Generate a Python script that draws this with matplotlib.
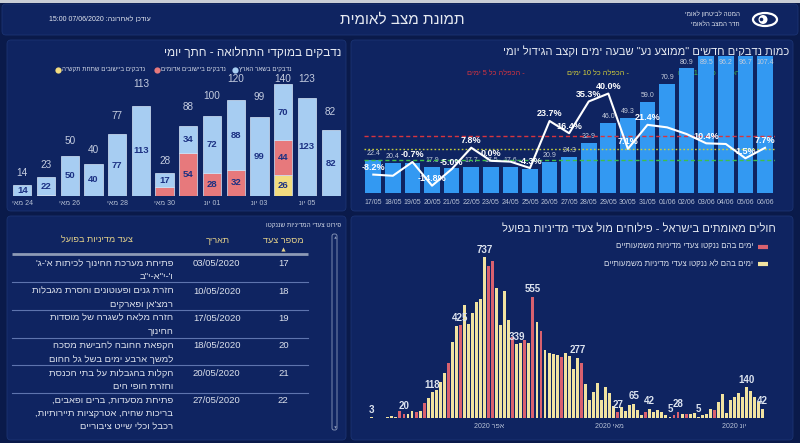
import re
import numpy as np
import matplotlib
matplotlib.use('Agg')
import matplotlib.pyplot as plt
from matplotlib.patches import FancyBboxPatch, Ellipse, Circle, Rectangle

plt.rcParams['font.family'] = ['Liberation Sans', 'DejaVu Sans']

# ---------------- DATA ----------------
# top-left: infections in hotspots, daily
tl_labels = ['24 מאי', '26 מאי', '28 מאי', '30 מאי', '01 יונ', '03 יונ', '05 יונ']
tl_blue = [14, 22, 50, 40, 77, 113, 17, 34, 72, 88, 99, 70, 123, 82]
tl_red = [0, 1, 0, 0, 0, 0, 11, 54, 28, 32, 0, 44, 0, 0]
tl_yellow = [0, 0, 0, 0, 0, 0, 0, 0, 0, 0, 0, 26, 0, 0]
tl_legend = ['נדבקים ביישובים שתחת תקש"ה', 'נדבקים ביישובים אדומים', 'נדבקים בשאר הארץ']

# top-right: 7-day moving average and daily growth
tr_dates = ['17/05', '18/05', '19/05', '20/05', '21/05', '22/05', '23/05', '24/05', '25/05', '26/05',
            '27/05', '28/05', '29/05', '30/05', '31/05', '01/06', '02/06', '03/06', '04/06', '05/06', '06/06']
tr_avg = [22.4, 20.4, 20.1, 17.9, 17.3, 17.7, 17.5, 17.6, 16.8, 20.9, 24.3, 32.9, 46.0, 49.3, 59.0,
          70.9, 80.9, 89.5, 96.2, 96.7, 107.4]
tr_avg_shown = [1, 1, 0, 1, 0, 1, 1, 1, 0, 1, 1, 1, 1, 1, 1, 1, 1, 1, 1, 1, 1]
tr_growth = [-8.2, -8.9, -0.7, -14.8, -5.0, 7.8, 0.0, -0.5, -4.3, 23.7, 16.4, 35.3, 40.0, 7.1, 21.4,
             19.9, 15.9, 10.4, 10.0, 1.5, 7.7]
tr_growth_shown = [1, 0, 1, 1, 1, 1, 1, 0, 1, 1, 1, 1, 1, 1, 1, 0, 0, 1, 0, 1, 1]
tr_ref_values = [14.87, 7.18, 0.7]
tr_ref_labels = ['- הכפלה כל 5 ימים', '- הכפלה כל 10 ימים', '- הכפלה כל 100 ימים']

# bottom-right: confirmed daily cases (2 Mar - 7 Jun), policy-step days flagged
br_cases = [3, 1, 2, 2, 3, 9, 3, 31, 20, 17, 32, 26, 34, 70, 92, 118, 130, 166, 207, 253,
            349, 421, 425, 519, 433, 480, 533, 546, 737, 696, 719, 598, 427, 584, 450, 373, 339, 343, 359, 343,
            555, 439, 401, 311, 297, 294, 291, 279, 300, 282, 224, 277, 252, 157, 84, 117, 160, 81, 142, 114,
            53, 27, 50, 34, 61, 65, 35, 15, 27, 42, 26, 38, 26, 15, 5, 15, 28, 20, 17, 18,
            23, 5, 12, 20, 43, 35, 74, 109, 25, 84, 97, 116, 97, 140, 123, 97, 74, 42]
br_policy = [0, 0, 0, 0, 0, 0, 0, 1, 1, 0, 0, 1, 0, 1, 0, 0, 0, 0, 0, 1,
             0, 0, 1, 0, 0, 0, 0, 0, 0, 1, 1, 0, 0, 0, 0, 1, 0, 0, 1, 0,
             1, 0, 1, 0, 0, 0, 0, 1, 0, 0, 0, 0, 1, 0, 0, 0, 0, 0, 0, 0,
             0, 1, 0, 0, 0, 0, 0, 0, 1, 0, 0, 0, 0, 0, 0, 1, 1, 0, 1, 0,
             0, 0, 0, 0, 0, 1, 0, 0, 0, 0, 0, 0, 0, 0, 0, 0, 0, 0]
br_labeled = [0, 8, 15, 22, 28, 36, 40, 51, 61, 65, 69, 74, 76, 81, 93, 97]
br_ticks = [29, 59, 90]
br_tick_labels = ['אפר 2020', 'מאי 2020', 'יונ 2020']
br_legend = ['ימים בהם ננקטו צעדי מדיניות משמעותיים', 'ימים בהם לא ננקטו צעדי מדיניות משמעותיים']

# table of policy steps
tb_steps = ['17', '18', '19', '20', '21', '22']
tb_dates = ['03/05/2020', '10/05/2020', '17/05/2020', '18/05/2020', '20/05/2020', '27/05/2020']
tb_desc = [["פתיחת מערכת החינוך לכיתות א'-ג'", 'ו\'-י"א-י"ב'],
           ['חזרת גנים ופעוטונים והסרת מגבלות', "רמצ'אן ופארקים"],
           ['חזרה מלאה לשגרה של מוסדות', 'החינוך'],
           ['הקפאת החובה לחבישת מסכה', 'למשך ארבע ימים בשל גל החום'],
           ['הקלות בהגבלות על בתי הכנסת', 'וחזרת חופי הים'],
           ['פתיחת מסעדות, ברים ופאבים,', 'בריכות שחיה, אטרקציות תיירותיות,', 'רכבל וכלי שייט ציבוריים']]
tb_headers = ['מספר צעד', 'תאריך', 'צעד מדיניות בפועל']


# ---------------- helpers ----------------
def rtl(s):
    r = s[::-1]
    r = re.sub(r'[0-9A-Za-z][0-9A-Za-z/:.%]*[0-9A-Za-z]|[0-9A-Za-z]', lambda m: m.group(0)[::-1], r)
    return r.translate(str.maketrans('()', ')('))


W, H = 800, 443
PX = 72 / 100.0  # points per pixel


def rect(x0, y0, x1, y1):
    return [x0 / W, 1 - y1 / H, (x1 - x0) / W, (y1 - y0) / H]


BG = '#0A1A4A'
PANEL = '#0F2461'
TXT = '#E6EAF2'
GRAY = '#B8C2D6'

fig = plt.figure(figsize=(8, 4.43), dpi=100)
fig.patch.set_facecolor(BG)

bg = fig.add_axes([0, 0, 1, 1], zorder=0)
bg.set_xlim(0, W)
bg.set_ylim(H, 0)
bg.axis('off')


def panel(x0, y0, x1, y1):
    bg.add_patch(FancyBboxPatch((x0, y0), x1 - x0, y1 - y0,
                                boxstyle='round,pad=0,rounding_size=4',
                                fc=PANEL, ec='#1B3372', lw=0.6))


bg.add_patch(Rectangle((0, 0), W, 3, fc='#C9CDD6', ec='none'))
panel(2, 4, 798, 35)
panel(7, 40, 346, 211)
panel(351, 40, 793, 211)
panel(7, 216, 346, 440)
panel(351, 216, 793, 440)

# header
bg.text(402, 19.5, rtl('תמונת מצב לאומית'), ha='center', va='center', fontsize=11, color=TXT)
bg.text(100, 19.5, rtl('עודכן לאחרונה: 07/06/2020 15:00'), ha='center', va='center', fontsize=5, color=TXT)
bg.text(740, 14, rtl('המטה לביטחון לאומי'), ha='right', va='center', fontsize=4.5, color=TXT)
bg.text(740, 24, rtl('חדר המצב הלאומי'), ha='right', va='center', fontsize=4.5, color=TXT)
bg.add_patch(Ellipse((765, 19.5), 24, 13, fc='none', ec='white', lw=1.6))
bg.add_patch(Circle((763, 19.5), 4.5, fc='white', ec='none'))
bg.add_patch(Circle((761.5, 19.5), 1.8, fc=PANEL, ec='none'))

# ---------------- top-left chart ----------------
bg.text(341, 52.5, rtl('נדבקים במוקדי התחלואה - חתך יומי'), ha='right', va='center', fontsize=8.5, color=TXT)

C_BLUE = '#A7CDF2'
C_RED = '#E7797C'
C_YEL = '#F3DC7F'
ax1 = fig.add_axes(rect(10.4, 60, 342.5, 195.7), zorder=2)
ax1.set_facecolor('none')
n1 = len(tl_blue)
x1 = np.arange(n1)
yel = np.array(tl_yellow)
red = np.array(tl_red)
blu = np.array(tl_blue)
tot = yel + red + blu
ax1.set_xlim(-0.5, n1 - 0.5)
ax1.set_ylim(0, 170.3)
bw = 0.77
ax1.bar(x1, yel, bw, color=C_YEL, ec='#D6E6F8', lw=0.5, zorder=2)
ax1.bar(x1, red, bw, bottom=yel, color=C_RED, ec='#D6E6F8', lw=0.5, zorder=2)
ax1.bar(x1, blu, bw, bottom=yel + red, color=C_BLUE, ec='#D6E6F8', lw=0.5, zorder=2)
for i in range(n1):
    base = 0
    for v in (yel[i], red[i], blu[i]):
        if v >= 12:
            ax1.text(i, base + v / 2, str(v), ha='center', va='center', fontsize=6.8,
                     color='#1C3183', fontweight='bold', zorder=3)
        base += v
    ppu = 0.797
    lab_px = min(0.9 * tot[i] + 10, 116.5)
    ax1.text(i, lab_px / ppu, str(tot[i]), ha='center', va='center', fontsize=7.2, color='#C5CDE0', zorder=3)
ax1.set_xticks(np.arange(0, n1, 2))
ax1.set_xticklabels([rtl(s) for s in tl_labels])
ax1.tick_params(axis='x', length=0, labelsize=5, labelcolor=GRAY, pad=3.2)
ax1.set_yticks([])
for s in ax1.spines.values():
    s.set_visible(False)

# legend (top-left)
for xd, col, txt in zip([58, 157, 235], [C_YEL, C_RED, C_BLUE], tl_legend):
    bg.plot([xd], [69.5], 'o', ms=4.5, color=col, mec='none')
    bg.text(xd + 4, 69.5, rtl(txt), ha='left', va='center', fontsize=4.5, color='#D5DBE8')

# ---------------- top-right chart ----------------
bg.text(789, 51.5, rtl('כמות נדבקים חדשים "ממוצע נע" שבעה ימים וקצב הגידול יומי'), ha='right', va='center',
        fontsize=8, color=TXT)
ax2 = fig.add_axes(rect(363.5, 56, 774.8, 193.3), zorder=2)
ax2.set_facecolor('none')
n2 = len(tr_avg)
x2 = np.arange(n2)
y_lo, y_hi = 1.0, 88.6
ax2.set_xlim(-0.5, n2 - 0.5)
ax2.set_ylim(y_lo, y_hi)
ax2.bar(x2, tr_avg, 0.8, color='#3399F2', zorder=2)
ppu2 = (193.3 - 56) / (y_hi - y_lo)
off_u = 6.5 / ppu2
for i, v in enumerate(tr_avg):
    if tr_avg_shown[i]:
        yl = min(v, y_hi - 2 * off_u) + off_u
        ax2.text(i, yl, f'{v:.1f}', ha='center', va='center', fontsize=5, color='#C3CBDB', zorder=3)
for txt, col, xt in zip(tr_ref_labels, ['#D8343F', '#D4D03A', '#3FBF4A'], [466.7, 566.7, 678]):
    ax2.text(xt, 73.3, rtl(txt), transform=bg.transData, ha='left', va='center', fontsize=5.3,
             color=col, zorder=1)
ax2.set_xticks(x2)
ax2.set_xticklabels(tr_dates)
ax2.tick_params(axis='x', length=0, labelsize=5, labelcolor=GRAY, pad=4.0)
ax2.set_yticks([])
for s in ax2.spines.values():
    s.set_visible(False)

ax2t = ax2.twinx()
ax2t.set_ylim(-19.33, 62.34)
ax2t.axis('off')
for val, col, ls in zip(tr_ref_values, ['#D8343F', '#C9CF3A', '#3FBF4A'],
                        [(0, (3, 2)), (0, (1.2, 1.6)), (0, (3, 2))]):
    ax2t.axhline(val, color=col, lw=1.0, ls=ls, zorder=3)
ax2t.plot(x2, tr_growth, color='white', lw=1.5, zorder=4)
for i, g in enumerate(tr_growth):
    if tr_growth_shown[i]:
        ax2t.annotate(f'{g:.1f}%', (i, g), xytext=(0, 7 * PX), textcoords='offset points',
                      ha='center', va='center', fontsize=6.5, fontweight='bold', color='white', zorder=5)

# ---------------- bottom-left table ----------------
bg.text(341, 225, rtl('פירוט צעדי המדיניות שננקטו'), ha='right', va='center', fontsize=4.6, color='#D5DBE8')
GOLD = '#E3D08A'
for h, xh in zip(tb_headers, [283.3, 217.5, 96.7]):
    bg.text(xh, 240, rtl(h), ha='center', va='center', fontsize=6.6, color=GOLD)
bg.plot([283.3], [249], marker='^', ms=3, color=GOLD, mec='none')
bg.plot([12, 308], [254.3, 254.3], color='#8D9AB6', lw=2.0, solid_capstyle='butt')
row_top = [263.3, 291, 318.3, 346, 373.3, 400.7]
seps = [281.7, 310, 337.7, 365, 393.3]
for yv in seps:
    bg.plot([12, 308], [yv, yv], color='#5E74AE', lw=0.8)
for k in range(len(tb_steps)):
    y0 = row_top[k]
    bg.text(283.3, y0, tb_steps[k], ha='center', va='center', fontsize=6.8, color='#DCE1EC')
    bg.text(216.7, y0, tb_dates[k], ha='center', va='center', fontsize=6.8, color='#DCE1EC')
    for j, line in enumerate(tb_desc[k]):
        bg.text(173.3, y0 + j * 13.2, rtl(line), ha='right', va='center', fontsize=6.8, color='#DCE1EC')
bg.add_patch(FancyBboxPatch((332, 234), 5, 196, boxstyle='round,pad=0,rounding_size=2',
                            fc='none', ec='#8F9CBC', lw=0.6))
bg.plot([334.5], [237], marker='^', ms=1.8, color='#8F9CBC', mec='none')
bg.plot([334.5], [427], marker='v', ms=1.8, color='#8F9CBC', mec='none')

# ---------------- bottom-right chart ----------------
bg.text(776, 229, rtl('חולים מאומתים בישראל - פילוחים מול צעדי מדיניות בפועל'), ha='right', va='center',
        fontsize=8, color=TXT)
C_P_RED = '#D9616F'
C_P_YEL = '#F1E3A1'
for yy, col, txt in zip([246.7, 264.3], [C_P_RED, C_P_YEL], br_legend):
    bg.plot([758, 768], [yy, yy], color=col, lw=3, solid_capstyle='butt')
    bg.text(753, yy, rtl(txt), ha='right', va='center', fontsize=5.8, color='#D5DBE8')

ax3 = fig.add_axes(rect(369.7, 240, 764.7, 418), zorder=2)
ax3.set_facecolor('none')
n3 = len(br_cases)
x3 = np.arange(n3)
ax3.set_xlim(-0.5, n3 - 0.5)
ax3.set_ylim(0, 816)
cols3 = [C_P_RED if p else C_P_YEL for p in br_policy]
ax3.bar(x3, br_cases, 0.72, color=cols3, zorder=2)
for i in br_labeled:
    ax3.annotate(str(br_cases[i]), (i, br_cases[i]), xytext=(0, 2.5 * PX), textcoords='offset points',
                 ha='center', va='bottom', fontsize=7, fontweight='bold', color='#DCE3EF', zorder=3)
ax3.set_xticks(br_ticks)
ax3.set_xticklabels([rtl(s) for s in br_tick_labels])
ax3.tick_params(axis='x', length=0, labelsize=5, labelcolor=GRAY, pad=3.5)
ax3.set_yticks([])
for s in ax3.spines.values():
    s.set_visible(False)

fig.savefig('out.png', dpi=100, facecolor=fig.get_facecolor())
